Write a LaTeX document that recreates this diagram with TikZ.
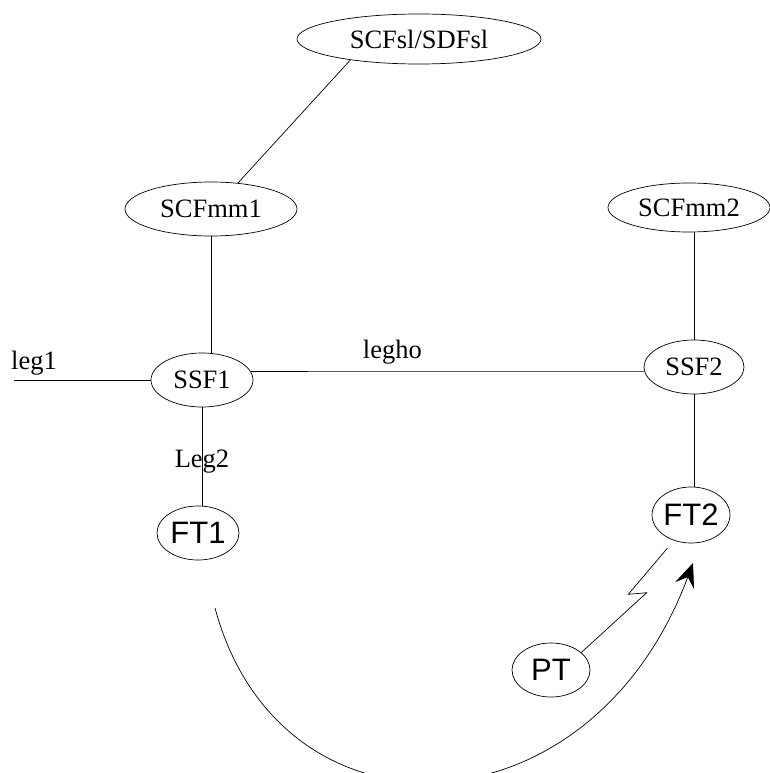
\documentclass[tikz,border=0pt]{standalone}
\usepackage{fontspec}
\setmainfont{Liberation Serif}
\newfontfamily\helvfont{Liberation Sans}
\usetikzlibrary{shapes.geometric,arrows.meta}

\begin{document}
\begin{tikzpicture}[x=1pt,y=1pt,line width=0.7pt,
  sfnode/.style={draw,ellipse,inner sep=0pt,font=\fontsize{26.5}{29}\selectfont},
  ftnode/.style={draw,ellipse,inner sep=0pt,font=\helvfont\fontsize{31}{34}\selectfont},
  lbl/.style={font=\fontsize{26.5}{29}\selectfont,inner sep=0pt}]
\useasboundingbox (0,0) rectangle (770,-773);
\clip (0,0) rectangle (770,-773);
\node [sfnode,minimum width=244,minimum height=50] (sl) at (419,-39) {SCFsl/SDFsl};
\node [sfnode,minimum width=172,minimum height=54] (mm1) at (211,-209) {SCFmm1};
\node [sfnode,minimum width=162,minimum height=49] (mm2) at (689,-207.5) {SCFmm2};
\node [sfnode,minimum width=102,minimum height=54] (ssf1) at (202,-380) {SSF1};
\node [sfnode,minimum width=100,minimum height=54] (ssf2) at (694,-367) {SSF2};
\node [ftnode,minimum width=82,minimum height=54] (ft1) at (198,-533) {FT1};
\node [ftnode,minimum width=76,minimum height=56] (ft2) at (691,-515) {FT2};
\node [ftnode,minimum width=78,minimum height=54] (pt) at (551,-670) {PT};

\coordinate (leg1end) at (14,-380);
\coordinate (kinka) at (646.7,-592.7);
\coordinate (kinkb) at (628.3,-594.3);
\coordinate (boltend) at (667.3,-548.3);
\coordinate (hostart) at (215,-608);
\coordinate (hoend) at (693,-563);

\draw (sl.197) -- (mm1.44);
\draw (mm1.south) -- (mm1.south |- ssf1.north);
\draw (leg1end) -- (ssf1.west);
\node [lbl] (leg1) at (34,-363) {leg1};
\draw (ssf1.10) -- node [lbl,above=7pt,pos=0.36] (legho) {legho} (ssf2.185);
\draw (ssf1.south) -- node [lbl,pos=0.55] (leg2) {Leg2} (ssf1.south |- ft1.north);
\draw (ssf2.north |- mm2.south) -- (ssf2.north);
\draw (ssf2.south) -- (ssf2.south |- ft2.north);
\draw (pt.30) -- (kinka) -- (kinkb) -- (boltend);
\draw [-{Stealth[length=24pt,width=20pt,inset=9pt]}] (hostart) .. controls (280,-850) and (590,-840) .. (hoend);
\end{tikzpicture}
\end{document}
